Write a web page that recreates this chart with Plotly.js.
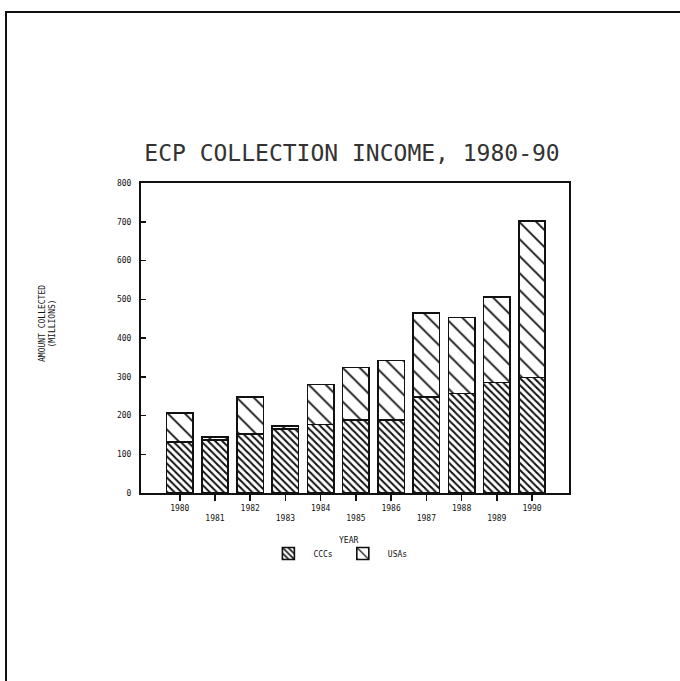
<!DOCTYPE html>
<html>
<head>
<meta charset="utf-8">
<script src="https://cdn.plot.ly/plotly-3.0.1.min.js"></script>
<style>html,body{margin:0;padding:0;background:#fff;}#chart{width:680px;height:681px;}</style>
</head>
<body>
<div id="chart"></div>
<script>
// Data (amounts in millions)
var years = ['1980','1981','1982','1983','1984','1985','1986','1987','1988','1989','1990'];
var yearLabels = ['1980','<br>1981','1982','<br>1983','1984','<br>1985','1986','<br>1987','1988','<br>1989','1990'];
var oddYearIndex = [1, 3, 5, 7, 9];
var lowerName = 'CCCs';
var upperName = 'USAs';
var lowerValues = [131, 137, 152, 165, 177, 188, 188, 247, 257, 285, 298];
var upperValues = [75, 7, 95, 8, 103, 136, 154, 218, 196, 221, 404];
var yTicks = [0, 100, 200, 300, 400, 500, 600, 700, 800];

var font = 'DejaVu Sans Mono, monospace';
var ink = '#111';

var traces = [
  {
    type: 'bar', x: years, y: lowerValues, name: lowerName,
    marker: {color: '#fff', line: {color: ink, width: 1.6},
      pattern: {shape: '\\', fgcolor: ink, bgcolor: '#fff', size: 5, solidity: 0.4, fillmode: 'replace'}}
  },
  {
    type: 'bar', x: years, y: upperValues, name: upperName,
    marker: {color: '#fff', line: {color: ink, width: 1.6},
      pattern: {shape: '\\', fgcolor: ink, bgcolor: '#fff', size: 12, solidity: 0.15, fillmode: 'replace'}}
  }
];

var layout = {
  width: 680, height: 681,
  margin: {l: 141, r: 111, t: 183, b: 188, pad: 0},
  paper_bgcolor: '#fff', plot_bgcolor: '#fff',
  barmode: 'stack', bargap: 0.25,
  showlegend: true,
  title: {text: 'ECP COLLECTION INCOME, 1980-90', font: {family: font, size: 23, color: '#333'},
          x: 352/680, xanchor: 'center', y: 1 - 153/681, yanchor: 'middle'},
  xaxis: {
    type: 'category', range: [-1.1, 11.05],
    tickmode: 'array', tickvals: years, ticktext: yearLabels,
    ticks: 'outside', ticklen: 6, tickcolor: ink, tickwidth: 1.5,
    tickfont: {family: font, size: 8, color: ink},
    showline: true, linecolor: ink, linewidth: 2, mirror: true,
    showgrid: false, zeroline: false, fixedrange: true
  },
  xaxis2: {
    overlaying: 'x', anchor: 'y', side: 'bottom', type: 'linear', range: [-1.1, 11.05],
    tickmode: 'array', tickvals: oddYearIndex, showticklabels: false,
    ticks: 'outside', ticklen: 16, tickcolor: ink, tickwidth: 1.5,
    showline: false, showgrid: false, zeroline: false, fixedrange: true
  },
  yaxis: {
    range: [0, 800], tickmode: 'array', tickvals: yTicks,
    ticks: 'inside', ticklen: 5, tickcolor: ink, tickwidth: 1.5,
    tickfont: {family: font, size: 8, color: ink},
    showline: true, linecolor: ink, linewidth: 2, mirror: true,
    showgrid: false, zeroline: false, fixedrange: true, ticklabelstandoff: 6
  },
  legend: {orientation: 'h', x: 0.46, xanchor: 'center', y: -0.195, yanchor: 'middle',
           font: {family: font, size: 8, color: ink}, itemwidth: 40, traceorder: 'normal'},
  annotations: [
    {text: 'YEAR', xref: 'paper', yref: 'paper', x: (348-141)/428, y: (493-540)/310,
     showarrow: false, font: {family: font, size: 8, color: ink}, xanchor: 'center', yanchor: 'middle'},
    {text: 'AMOUNT COLLECTED<br>(MILLIONS)', xref: 'paper', yref: 'paper', x: (47-141)/428, y: (493-324)/310,
     showarrow: false, textangle: -90, font: {family: font, size: 8, color: ink}, xanchor: 'center', yanchor: 'middle'}
  ],
  shapes: [
    {type: 'path', xref: 'paper', yref: 'paper',
     path: 'M ' + ((680-141)/428) + ',' + ((493-12)/310) + ' L ' + ((6-141)/428) + ',' + ((493-12)/310) + ' L ' + ((6-141)/428) + ',' + ((493-681)/310),
     line: {color: ink, width: 2}}
  ]
};

Plotly.newPlot('chart', traces, layout, {displayModeBar: false, staticPlot: true});
</script>
</body>
</html>
